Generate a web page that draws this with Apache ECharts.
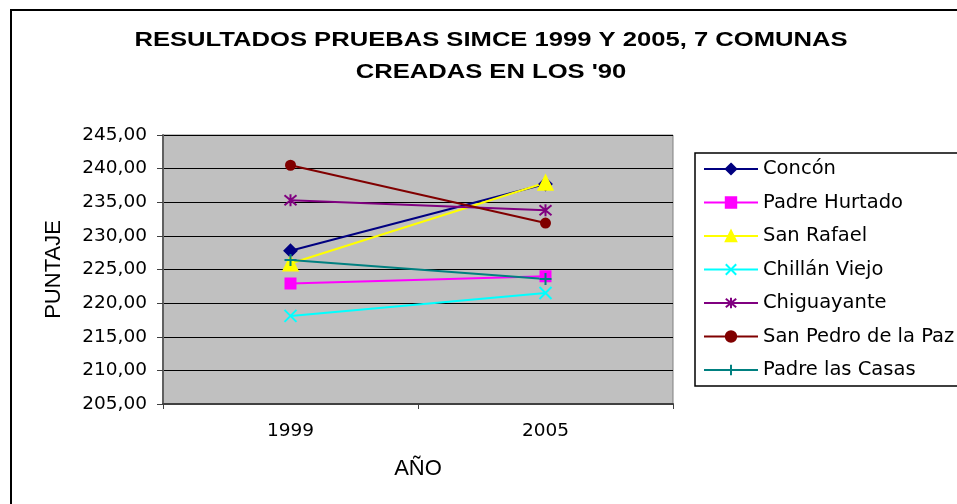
<!DOCTYPE html>
<html>
<head>
<meta charset="utf-8">
<title>Resultados SIMCE</title>
<script src="https://cdn.jsdelivr.net/npm/echarts@6/dist/echarts.min.js"></script>
<style>
    html, body { margin: 0; padding: 0; background: #fff; }
    #chart { width: 957px; height: 504px; }
</style>
</head>
<body>
<div id="chart"></div>
<script>
    // categorias y puntajes
    var years = ['1999', '2005'];
    var comunas = ['Concón', 'Padre Hurtado', 'San Rafael', 'Chillán Viejo', 'Chiguayante', 'San Pedro de la Paz', 'Padre las Casas'];
    var concon = [227.8, 237.7];
    var padreHurtado = [222.9, 224.0];
    var sanRafael = [225.9, 237.9];
    var chillanViejo = [218.1, 221.5];
    var chiguayante = [235.3, 233.8];
    var sanPedro = [240.5, 231.9];
    var padreCasas = [226.4, 223.6];
    var yTicks = { min: 205, max: 245, step: 5 };

    var colors = ['#000080', '#ff00ff', '#ffff00', '#00ffff', '#800080', '#800000', '#008080'];
    var symbols = [
        'diamond',
        'rect',
        'triangle',
        'path://M0,0L10,10M10,0L0,10',
        'path://M0,0L10,10M10,0L0,10M5,-1L5,11',
        'circle',
        'path://M5,0L5,10M0,5L10,5'
    ];
    var sizes = [12, 10, 14, 12, 12, 9, 12];
    var values = [concon, padreHurtado, sanRafael, chillanViejo, chiguayante, sanPedro, padreCasas];

    var series = comunas.map(function (name, i) {
        return {
            name: name,
            type: 'line',
            data: values[i],
            symbol: symbols[i],
            symbolSize: sizes[i],
            showAllSymbol: true,
            lineStyle: { color: colors[i], width: 2 },
            itemStyle: { color: colors[i], borderColor: colors[i], borderWidth: 2 },
            emphasis: { disabled: true }
        };
    });

    var chart = echarts.init(document.getElementById('chart'));
    var option = {
        animation: false,
        graphic: [
            {
                type: 'rect',
                shape: { x: 11, y: 10, width: 1000, height: 600 },
                style: { fill: null, stroke: '#000', lineWidth: 2 },
                silent: true
            },
            {
                type: 'text',
                x: 491, y: 40, scaleX: 1.28,
                style: {
                    text: 'RESULTADOS PRUEBAS SIMCE 1999 Y 2005, 7 COMUNAS',
                    x: 0, y: 0, align: 'center', verticalAlign: 'middle',
                    font: 'bold 20px "Liberation Sans", Arial, sans-serif', fill: '#000'
                }
            },
            {
                type: 'text',
                x: 491, y: 72, scaleX: 1.28,
                style: {
                    text: "CREADAS EN LOS '90",
                    x: 0, y: 0, align: 'center', verticalAlign: 'middle',
                    font: 'bold 20px "Liberation Sans", Arial, sans-serif', fill: '#000'
                }
            }
        ],
        grid: {
            left: 163, top: 135, right: 284, bottom: 100,
            show: true, backgroundColor: '#c0c0c0', borderColor: '#808080', borderWidth: 1
        },
        legend: {
            data: comunas,
            orient: 'vertical',
            left: 695, top: 153,
            itemWidth: 54, itemHeight: 13, itemGap: 13.5,
            padding: [6, 40, 6, 8],
            borderColor: '#000', borderWidth: 1.5,
            backgroundColor: '#fff',
            textStyle: { fontFamily: 'DejaVu Sans', fontSize: 19.5, color: '#000', lineHeight: 20 }
        },
        xAxis: {
            type: 'category',
            data: years,
            boundaryGap: true,
            name: 'AÑO',
            nameLocation: 'middle',
            nameGap: 54,
            nameTextStyle: { fontFamily: 'Liberation Sans', fontSize: 22, color: '#000' },
            axisLine: { lineStyle: { color: '#404040', width: 2 } },
            axisTick: { show: true, length: 5, interval: 0, lineStyle: { color: '#404040' } },
            axisLabel: { margin: 18, fontFamily: 'DejaVu Sans', fontSize: 18.5, color: '#000' },
            splitLine: { show: false }
        },
        yAxis: {
            type: 'value',
            min: yTicks.min, max: yTicks.max, interval: yTicks.step,
            name: 'PUNTAJE',
            nameLocation: 'middle',
            nameGap: 98,
            nameTextStyle: { fontFamily: 'Liberation Sans', fontSize: 22, color: '#000' },
            axisLine: { show: true, lineStyle: { color: '#606060', width: 2 } },
            axisTick: { show: true, length: 6, lineStyle: { color: '#404040' } },
            axisLabel: {
                margin: 16, fontFamily: 'DejaVu Sans', fontSize: 18.5, color: '#000',
                formatter: function (v) { return v.toFixed(2).replace('.', ','); }
            },
            splitLine: { show: true, lineStyle: { color: '#000', width: 1 } }
        },
        series: series
    };
    chart.setOption(option);
</script>
</body>
</html>
